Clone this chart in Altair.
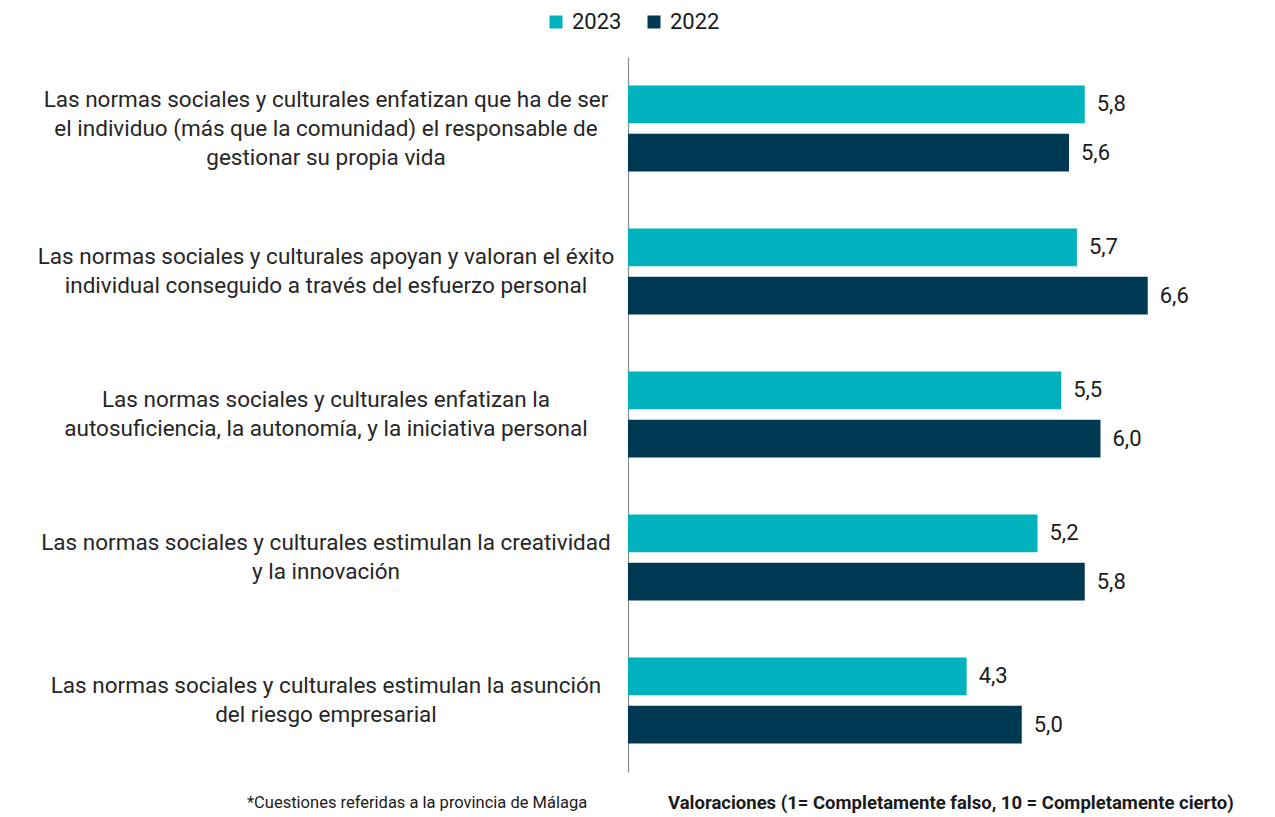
import altair as alt
import pandas as pd

categories = [
    "Las normas sociales y culturales enfatizan que ha de ser\nel individuo (más que la comunidad) el responsable de\ngestionar su propia vida",
    "Las normas sociales y culturales apoyan y valoran el éxito\nindividual conseguido a través del esfuerzo personal",
    "Las normas sociales y culturales enfatizan la\nautosuficiencia, la autonomía, y la iniciativa personal",
    "Las normas sociales y culturales estimulan la creatividad\ny la innovación",
    "Las normas sociales y culturales estimulan la asunción\ndel riesgo empresarial",
]
years = ["2023", "2022"]
values_2023 = [5.8, 5.7, 5.5, 5.2, 4.3]
values_2022 = [5.6, 6.6, 6.0, 5.8, 5.0]
colors = ["#00B2BD", "#003A52"]
footnote_left = "*Cuestiones referidas a la provincia de Málaga"
footnote_right = "Valoraciones  (1= Completamente falso, 10 = Completamente cierto)"

rows = []
for c, a, b in zip(categories, values_2023, values_2022):
    rows.append({"cat": c, "year": "2023", "value": a})
    rows.append({"cat": c, "year": "2022", "value": b})
df = pd.DataFrame(rows)

FONT = "Roboto"
LINE_H = 29

y = alt.Y("cat:N", sort=categories,
          axis=alt.Axis(labels=False, ticks=False, title=None, grid=False,
                        domainColor="#8c8c8c", domainWidth=1.2),
          scale=alt.Scale(paddingInner=0.4, paddingOuter=0.2))
x = alt.X("value:Q", scale=alt.Scale(domain=[0, 8]), axis=None)
yoff = alt.YOffset("year:N", sort=years, scale=alt.Scale(paddingInner=0.22))
color = alt.Color("year:N", sort=years,
                  scale=alt.Scale(domain=years, range=colors),
                  legend=alt.Legend(orient="none", legendX=-83, legendY=-46,
                                    direction="horizontal", title=None,
                                    symbolType="square", symbolSize=169,
                                    symbolStrokeWidth=0,
                                    labelFontSize=22, labelFont=FONT,
                                    labelColor="#1a1a1a",
                                    columnPadding=21, labelOffset=5))

bars = alt.Chart(df).mark_bar().encode(y=y, x=x, yOffset=yoff, color=color)

vals = alt.Chart(df).transform_calculate(
    lbl="replace(format(datum.value, '.1f'), '.', ',')"
).mark_text(align="left", baseline="middle", dx=12, fontSize=22, font=FONT,
            color="#1a1a1a").encode(y=y, x=x, yOffset=yoff, text="lbl:N")

cat_df = pd.DataFrame({"cat": categories})
cat_layers = []
for n in (1, 2, 3):
    cat_layers.append(
        alt.Chart(cat_df).transform_calculate(
            nlines="length(split(datum.cat, '\\n'))"
        ).transform_filter(f"datum.nlines == {n}").mark_text(
            align="center", baseline="middle", lineBreak="\n", fontSize=22.5,
            lineHeight=LINE_H, font=FONT, color="#262626",
            dy=-(n - 1) * LINE_H / 2
        ).encode(y=y, x=alt.value(-302), text="cat:N")
    )

foot1 = alt.Chart(pd.DataFrame({"t": [footnote_left]})).mark_text(
    align="left", baseline="middle", fontSize=16.5,
    font=FONT, color="#1a1a1a"
).encode(x=alt.value(-381), y=alt.value(746), text="t:N")

foot2 = alt.Chart(pd.DataFrame({"t": [footnote_right]})).mark_text(
    align="left", baseline="middle", fontSize=18.5,
    font=FONT, fontWeight="bold", color="#1a1a1a"
).encode(x=alt.value(40), y=alt.value(746), text="t:N")

chart = alt.layer(bars, vals, *cat_layers, foot1, foot2).properties(
    width=630, height=715,
    autosize=alt.AutoSizeParams(type="none"),
    padding={"left": 620, "top": 49, "right": 5, "bottom": 44},
).configure_view(stroke=None)

chart.save("out.html", embed_options={"renderer": "svg", "actions": False})
